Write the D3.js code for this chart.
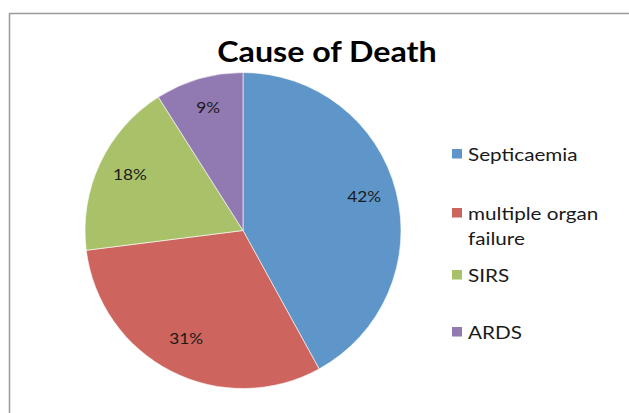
<!DOCTYPE html>
<html><head><meta charset="utf-8">
<script src="https://cdn.jsdelivr.net/npm/d3@7"></script>
<style>body{margin:0;background:#fff;}svg{display:block;}</style>
</head><body>
<svg id="chart" width="629" height="413"></svg>
<script>
const categories = ["Septicaemia", "multiple organ failure", "SIRS", "ARDS"];
const values = [42, 31, 18, 9];
const colors = ["#5f96c9", "#cd645d", "#a9c26a", "#9179b1"];
const legendLines = [["Septicaemia"], ["multiple organ", "failure"], ["SIRS"], ["ARDS"]];
const titleText = "Cause of Death";

const svg = d3.select("#chart");
const font = "Lato, 'Open Sans', sans-serif";
const sx = 1.15; // horizontal stretch to mimic wider glyphs

// frame
svg.append("path").attr("d", "M9.5,413 V13.5 H629").attr("fill", "none").attr("stroke", "#9a9a9a").attr("stroke-width", 1.5);

svg.append("text").attr("transform", `translate(327,62) scale(${sx},1)`).attr("text-anchor", "middle")
  .attr("font-family", font).attr("font-weight", "bold").attr("font-size", 28)
  .attr("fill", "#000").text(titleText);

const cx = 243, cy = 230.5, r = 158;
const data = categories.map((c, i) => ({ name: c, value: values[i], color: colors[i] }));
const pie = d3.pie().value(d => d.value).sort(null);
const arc = d3.arc().innerRadius(0).outerRadius(r);
const labelArc = d3.arc().innerRadius(125).outerRadius(125);
const g = svg.append("g").attr("transform", `translate(${cx},${cy})`);
const arcs = pie(data);
g.selectAll("path").data(arcs).join("path").attr("d", arc).attr("fill", d => d.data.color)
  .attr("stroke", "#fff").attr("stroke-width", 0.6);
const total = d3.sum(values);
g.selectAll("text").data(arcs).join("text")
  .attr("transform", d => { const c = labelArc.centroid(d); return `translate(${c[0]},${c[1] - 3}) scale(${sx},1)`; })
  .attr("text-anchor", "middle").attr("dy", "0.35em")
  .attr("font-family", font).attr("font-size", 15).attr("fill", "#1a1a1a")
  .text(d => Math.round(d.data.value / total * 100) + "%");

// legend
const legendBase = [161, 220, 282, 339];
const lg = svg.append("g");
legendLines.forEach((lines, i) => {
  lg.append("rect").attr("x", 452).attr("y", legendBase[i] - 12).attr("width", 10).attr("height", 9.5).attr("fill", colors[i]);
  lines.forEach((t, j) => {
    lg.append("text").attr("transform", `translate(468,${legendBase[i] + j * 25}) scale(${sx},1)`)
      .attr("font-family", font).attr("font-size", 18).attr("fill", "#1a1a1a").text(t);
  });
});
</script>
</body></html>
